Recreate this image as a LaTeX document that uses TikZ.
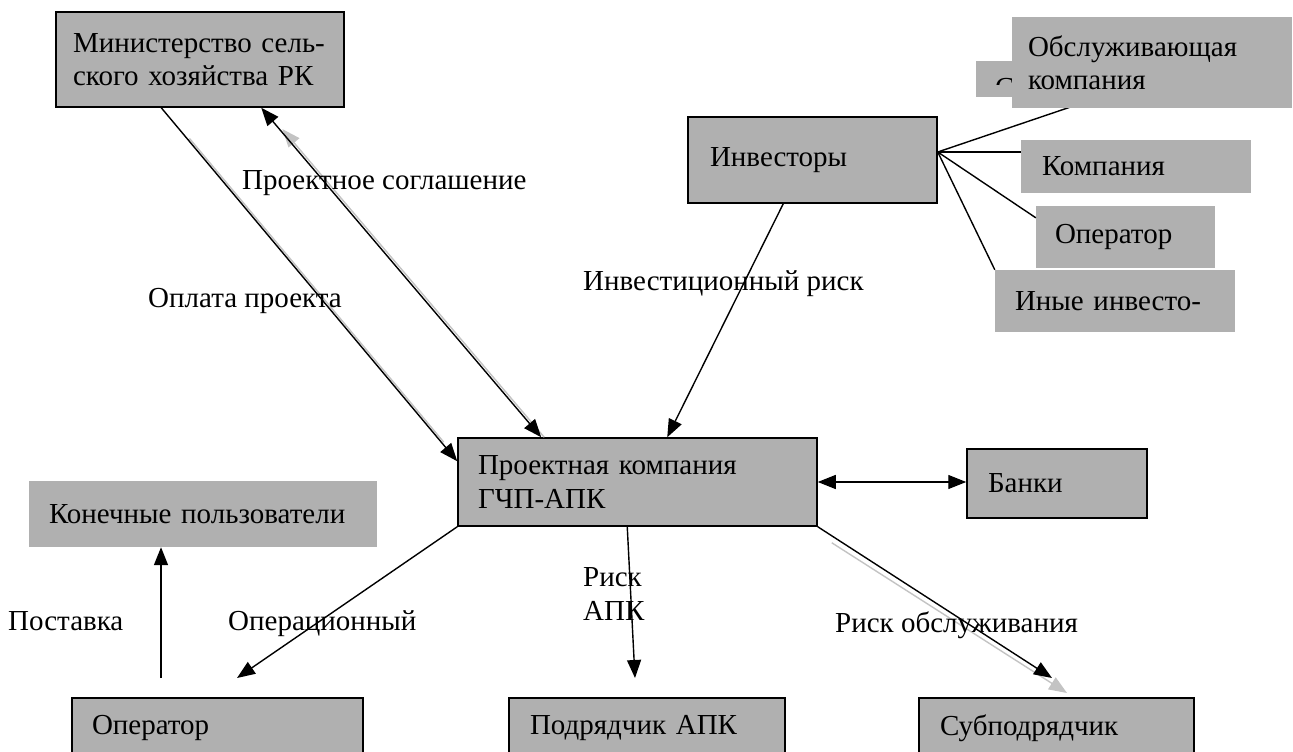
\documentclass[tikz,border=0pt]{standalone}
\usepackage{fontspec}
\setmainfont{Liberation Serif}
\usepackage{tikz}
\usetikzlibrary{arrows.meta}
\definecolor{boxgray}{RGB}{176,176,176}
\definecolor{shadegray}{RGB}{195,195,195}

\begin{document}
\begin{tikzpicture}[x=1pt, y=-1pt,
        >={Triangle[length=18pt,width=14pt]},
        font=\fontsize{29}{33.4}\selectfont,
        box/.style={shape=rectangle, draw=black, line width=1.5pt, fill=boxgray, inner sep=0pt, align=left},
        flatbox/.style={shape=rectangle, fill=boxgray, inner sep=0pt, align=left},
        lbl/.style={inner sep=0pt, anchor=base west},
        conn/.style={line width=1.4pt},
        ghost/.style={line width=1.4pt, color=shadegray}]
        \clip (0,0) rectangle (1293,752);

        \node[box, minimum width=288pt, minimum height=95pt, text width=254pt] (min) at (200,59.5) {Министерство сель-\\ского хозяйства РК};
        \node[box, minimum width=249pt, minimum height=86pt, text width=205pt] (inv) at (812.5,160) {Инвесторы};
        \node[flatbox, minimum width=174pt, minimum height=36pt] (stroi) at (1063,79) {};
        \begin{scope}
            \clip (976,61) rectangle (1012,84);
            \node[lbl] (stroitxt) at (995,97) {С};
        \end{scope}
        \node[flatbox, minimum width=230pt, minimum height=53pt, text width=188pt] (komp) at (1136,166.5) {Компания};
        \node[flatbox, minimum width=179pt, minimum height=62pt, text width=141pt] (oper2) at (1125.5,237) {Оператор};
        \node[flatbox, minimum width=240pt, minimum height=62pt, text width=200pt] (inost) at (1115,301) {Иные инвесто-};

        \coordinate (fan) at ([yshift=8pt]inv.east);
        \coordinate (obend) at (1100,97);
        \path [conn] (fan) edge (obend);
        \path [conn] (fan) edge (fan -| komp.west);
        \path [conn] (fan) edge ([yshift=-12pt]oper2.north west);
        \path [conn] (fan) edge (inost.north west);

        \node[flatbox, minimum width=280pt, minimum height=91pt, text width=248pt] (obsl) at (1152,62.5) {Обслуживающая\\компания};

        \node[box, minimum width=359pt, minimum height=88pt, text width=319pt] (pk) at (637.5,482) {Проектная компания\\ГЧП-АПК};
        \node[box, minimum width=180pt, minimum height=69pt, text width=138pt] (bank) at (1057,483.5) {Банки};
        \node[flatbox, minimum width=348pt, minimum height=66pt, text width=308pt] (users) at (203,514) {Конечные пользователи};
        \node[box, minimum width=291pt, minimum height=60pt, text width=251pt] (oper) at (217.5,728) {Оператор};
        \node[box, minimum width=276pt, minimum height=60pt, text width=234pt] (podr) at (647,728) {Подрядчик АПК};
        \node[box, minimum width=275pt, minimum height=60pt, text width=233pt] (sub) at (1056.5,728) {Субподрядчик};

        \coordinate (apkend) at (635,678);
        \coordinate (opend) at (237,678);
        \coordinate (subend) at (1052,678);
        \coordinate (subshade) at (1067,693);
        \coordinate (supst) at (161,678);

        % grey shadows
        \path [ghost, ->, shorten >=28pt, transform canvas={xshift=3pt}] ([xshift=84pt]pk.north west) edge ([xshift=206pt]min.south west);
        \path [ghost, shorten <=40pt, shorten >=25pt, transform canvas={xshift=2.5pt}] ([xshift=106pt]min.south west) edge ([yshift=-24pt]pk.north west);
        \path [ghost, ->] ([xshift=14pt,yshift=-16pt]pk.south east) edge (subshade);

        \path [conn, ->] ([xshift=106pt]min.south west) edge ([yshift=-24pt]pk.north west);
        \path [conn, <->] ([xshift=206pt]min.south west) edge ([xshift=84pt]pk.north west);
        \path [conn, ->] ([xshift=96pt]inv.south west) edge ([xshift=210pt]pk.north west);
        \path [conn, <->] (pk.east) edge (pk.east -| bank.west);
        \path [conn, ->] ([xshift=170pt]pk.south west) edge (apkend);
        \path [conn, ->] (pk.south west) edge (opend);
        \path [conn, ->] (pk.south east) edge (subend);
        \path [conn, ->] (supst) edge (supst |- users.south);

        \node[lbl] (lagr) at (242,189) {Проектное соглашение};
        \node[lbl] (lpay) at (148,307) {Оплата проекта};
        \node[lbl] (linv) at (583,290) {Инвестиционный риск};
        \node[lbl] (lsup) at (8,630) {Поставка};
        \node[lbl] (lop) at (228,630) {Операционный};
        \node[lbl, align=left] (lapk) at (583,620) {Риск\\АПК};
        \node[lbl] (lserv) at (835,632) {Риск обслуживания};
    \end{tikzpicture}
\end{document}
